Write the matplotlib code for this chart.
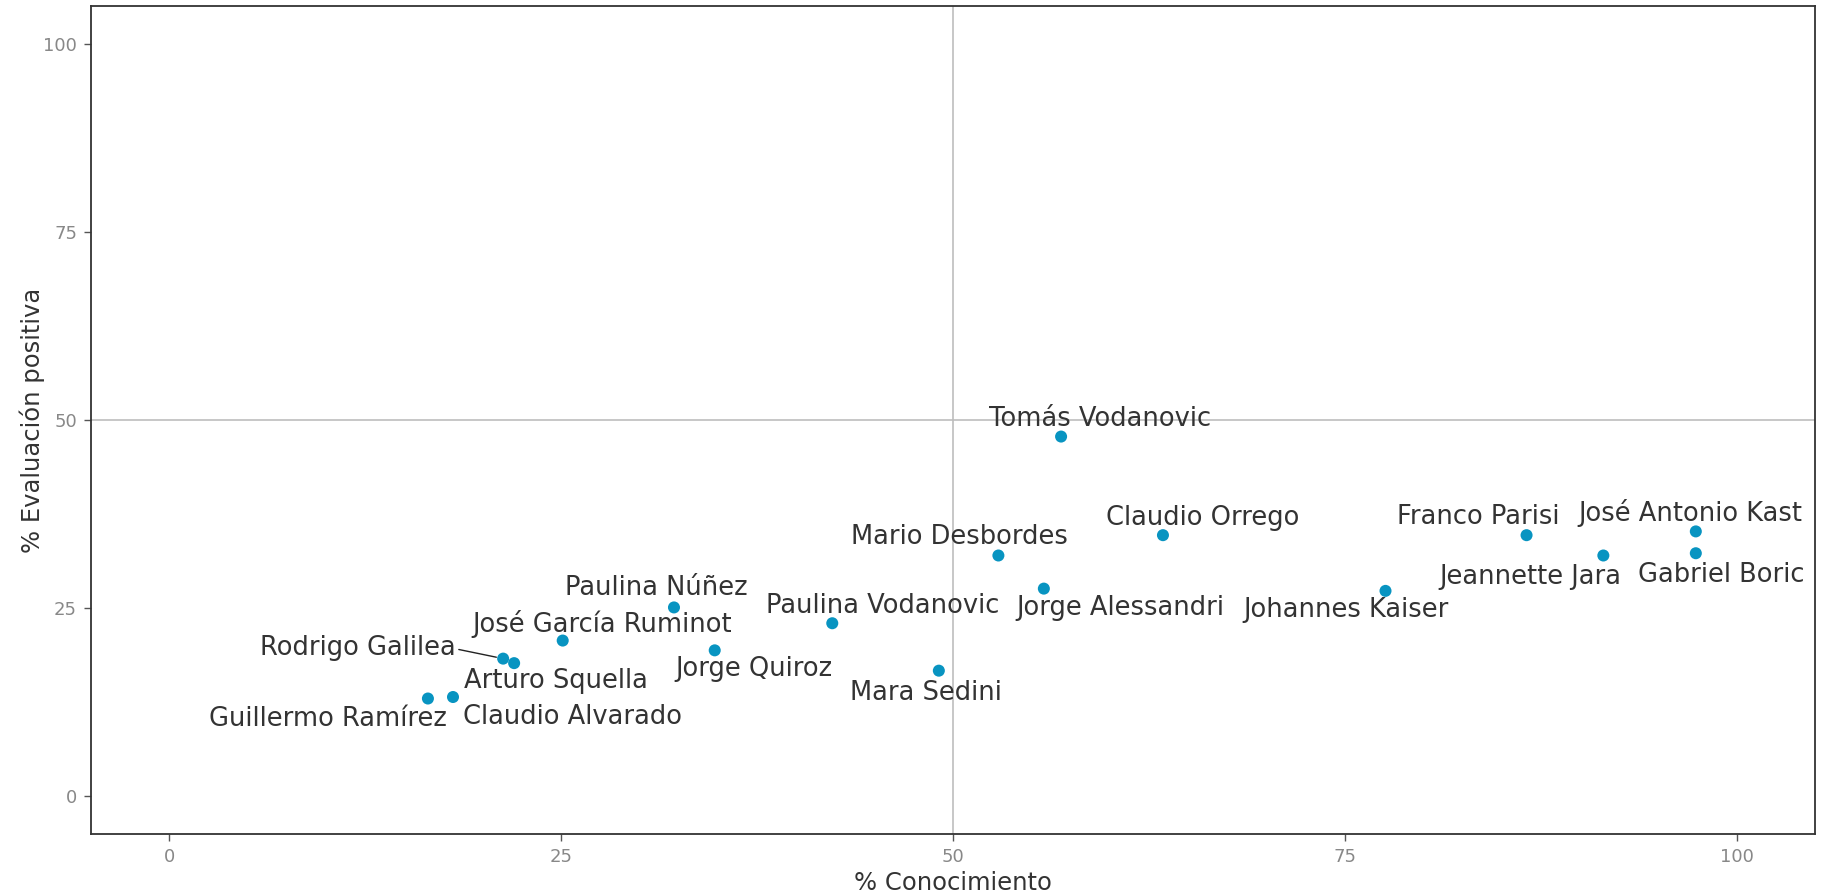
import matplotlib
matplotlib.use("Agg")
import matplotlib.pyplot as plt

# Figures per person: name recognition vs. positive evaluation (%)
nombres = [
    "Tomás Vodanovic", "Claudio Orrego", "Mario Desbordes", "Jorge Alessandri",
    "Johannes Kaiser", "Franco Parisi", "José Antonio Kast", "Jeannette Jara",
    "Gabriel Boric", "Paulina Núñez", "José García Ruminot", "Rodrigo Galilea",
    "Arturo Squella", "Guillermo Ramírez", "Claudio Alvarado", "Jorge Quiroz",
    "Paulina Vodanovic", "Mara Sedini",
]
conocimiento = [56.9, 63.4, 52.9, 55.8, 77.6, 86.6, 97.4, 91.5, 97.4,
                32.2, 25.1, 21.3, 22.0, 16.5, 18.1, 34.8, 42.3, 49.1]
evaluacion = [47.8, 34.7, 32.0, 27.6, 27.3, 34.7, 35.2, 32.0, 32.3,
              25.1, 20.7, 18.3, 17.7, 13.0, 13.2, 19.4, 23.0, 16.7]

# Label placement (pixels from the point to the text baseline centre)
offsets_px = [
    (39, 11), (40, 10), (-39, 11), (77, -26), (-39, -26), (-48, 11),
    (-5, 10), (-73, -29), (25, -29), (-18, 12), (39, 9), (-145, 4),
    (42, -25), (-100, -27), (120, -27), (39, -26), (50, 10), (-13, -29),
]

plt.rcParams["font.family"] = ["DejaVu Sans"]

fig = plt.figure(figsize=(18.34, 8.94), dpi=100)
ax = fig.add_axes([0.0496, 0.0671, 0.9400, 0.9262])

ax.set_xlim(-5, 105)
ax.set_ylim(-5, 105)

ax.axvline(50, color="#bdbdbd", lw=1.2, zorder=1)
ax.axhline(50, color="#bdbdbd", lw=1.2, zorder=1)

ax.scatter(conocimiento, evaluacion, s=75, color="#0894c1", edgecolors="none", zorder=3)

px2pt = 72 / 100
for nombre, x, y, (dx, dy) in zip(nombres, conocimiento, evaluacion, offsets_px):
    kwargs = {}
    if abs(dx) > 130:
        kwargs["arrowprops"] = dict(arrowstyle="-", color="#222222", lw=1.0,
                                    shrinkA=0, shrinkB=5, relpos=(1.0, 0.45))
    ax.annotate(nombre, xy=(x, y), xytext=(dx * px2pt, dy * px2pt),
                textcoords="offset points", ha="center", va="baseline",
                fontsize=18.5, color="#333333", zorder=4, **kwargs)

ticks = [0, 25, 50, 75, 100]
ax.set_xticks(ticks)
ax.set_yticks(ticks)
ax.tick_params(axis="both", length=5, width=1, color="#555555",
               labelsize=13, labelcolor="#888888", pad=5)

for sp in ax.spines.values():
    sp.set_color("#333333")
    sp.set_linewidth(1.3)

ax.set_xlabel("% Conocimiento", fontsize=17.5, color="#333333", labelpad=4)
ax.set_ylabel("% Evaluación positiva", fontsize=17.5, color="#333333", labelpad=-1)

fig.savefig("out.png", dpi=100, facecolor="white")
